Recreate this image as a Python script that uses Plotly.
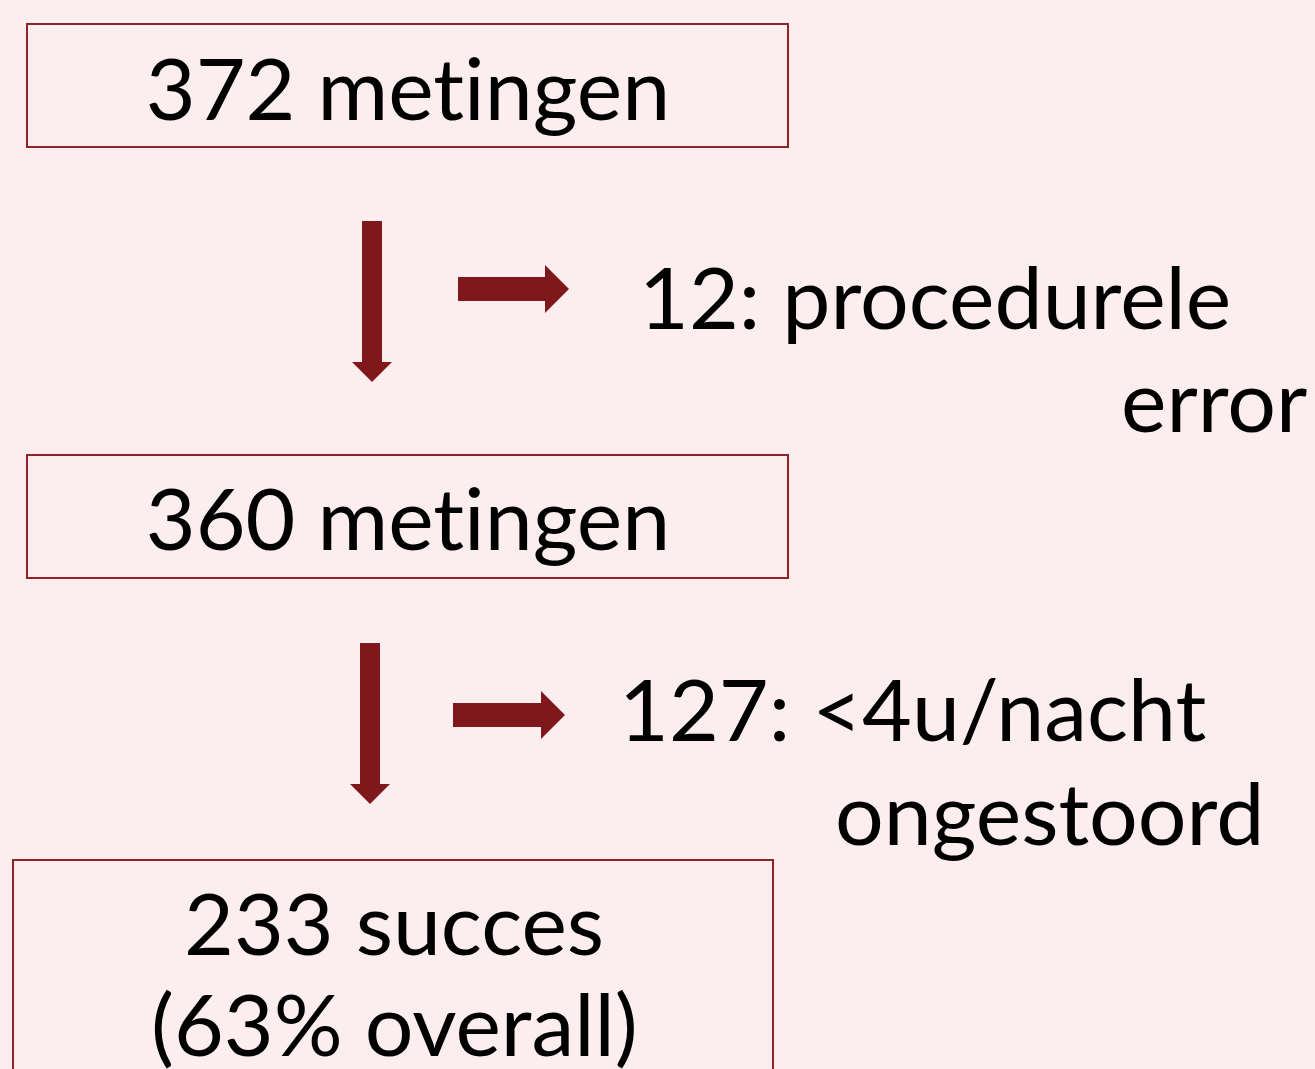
import plotly.graph_objects as go

# data
counts = [372, 360, 233]
count_units = ["metingen", "metingen", "succes"]
excluded = [12, 127]
excluded_reasons = [["procedurele", "error"], ["<4u/nacht", "ongestoord"]]
overall_pct = round(100 * counts[-1] / counts[0])

BG = "#FCEEEE"
DARK_RED = "#7F181D"
BORDER = "#8E2328"
FONT = "Lato"
FS = 86

# layout (pixels, y goes down)
boxes = [(27, 788, 24, 147), (27, 788, 455, 578), (13, 773, 860, 1100)]
down_arrows = [(372, 221, 382), (370, 643, 804)]   # x centre, top, tip
right_arrows = [(458, 569, 289), (453, 565, 715)]  # left, tip, y centre


def baseline_mid(baseline, size=FS):
    # approx centre of the Lato text box given a baseline
    return baseline - 0.387 * size


fig = go.Figure()

for x0, x1, y0, y1 in boxes:
    fig.add_shape(type="rect", x0=x0, x1=x1, y0=y0, y1=y1,
                  line=dict(color=BORDER, width=2), fillcolor="rgba(0,0,0,0)")

for xc, top, tip in down_arrows:
    sw, hw, hl = 10, 20, 20
    path = (f"M{xc-sw},{top} L{xc+sw},{top} L{xc+sw},{tip-hl} L{xc+hw},{tip-hl} "
            f"L{xc},{tip} L{xc-hw},{tip-hl} L{xc-sw},{tip-hl} Z")
    fig.add_shape(type="path", path=path, fillcolor=DARK_RED, line=dict(width=0))

for left, tip, yc in right_arrows:
    sw, hw, hl = 12, 24, 24
    path = (f"M{left},{yc-sw} L{tip-hl},{yc-sw} L{tip-hl},{yc-hw} L{tip},{yc} "
            f"L{tip-hl},{yc+hw} L{tip-hl},{yc+sw} L{left},{yc+sw} Z")
    fig.add_shape(type="path", path=path, fillcolor=DARK_RED, line=dict(width=0))


def label(text, x, baseline, xanchor="center"):
    fig.add_annotation(x=x, y=baseline_mid(baseline), text=text, showarrow=False,
                       xanchor=xanchor, yanchor="middle",
                       font=dict(family=FONT, size=FS, color="black"))


# box texts
label(f"{counts[0]} {count_units[0]}", 408, 120)
label(f"{counts[1]} {count_units[1]}", 408, 550)
label(f"{counts[2]} {count_units[2]}", 394, 955)
label(f"({overall_pct}% overall)", 394, 1056)

# exclusion texts
label(f"{excluded[0]}: {excluded_reasons[0][0]}", 637, 329, "left")
label(excluded_reasons[0][1], 1309, 432, "right")
label(f"{excluded[1]}: {excluded_reasons[1][0]}", 617, 741, "left")
label(excluded_reasons[1][1], 1266, 845, "right")

fig.update_xaxes(range=[0, 1315], visible=False, fixedrange=True)
fig.update_yaxes(range=[1069, 0], visible=False, fixedrange=True)
fig.update_layout(width=1315, height=1069, margin=dict(l=0, r=0, t=0, b=0),
                  paper_bgcolor=BG, plot_bgcolor=BG, showlegend=False)

# no page margin, no ligatures (reference shows plain "ti")
post = ("document.body.style.margin='0';"
        "var s=document.createElement('style');"
        "s.textContent='text{font-variant-ligatures:none !important;}';"
        "document.head.appendChild(s);")
fig.write_html("out.html", config={"displayModeBar": False}, post_script=post)
